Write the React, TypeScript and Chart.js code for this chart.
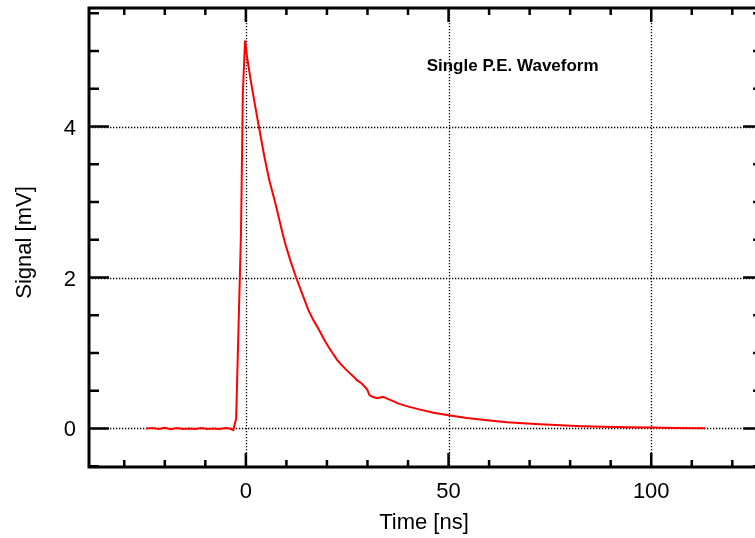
import React, { useEffect, useRef } from "react";
import { Chart, registerables } from "chart.js";

Chart.register(...registerables);

const times: number[] = [
  -24.6, -23, -21.5, -20, -18.5, -17, -15.5, -14, -12.5, -11, -9.5, -8, -6.5, -5, -4, -3.1,
  -2.4, -1.2, -0.75, -0.2, 0.25, 1.2, 2.2, 3.2, 4.5, 5.8, 7.2, 8.9, 9.7, 11, 12.4, 14, 15.4,
  16.6, 17.9, 19.2, 20.4, 21.5, 22.5, 23.3, 24.9, 25.7, 26.7, 27.4, 28.5, 29.4, 29.9, 30.5,
  31.3, 32.3, 33.1, 33.8, 34.7, 35.6, 37.7, 40.1, 43, 46.3, 50, 54.5, 59.5, 64.4, 69.3, 72.6,
  77.6, 83, 88.2, 94, 99.8, 106, 113.3,
];
const signal: number[] = [
  0.0, 0.005, -0.005, 0.01, -0.01, 0.005, -0.005, 0.0, -0.008, 0.005, -0.005, 0.0, -0.005, 0.005, 0.0, -0.02,
  0.13, 2.6, 4.44, 5.14, 4.94, 4.61, 4.3, 4.0, 3.62, 3.28, 3.0, 2.62, 2.45, 2.22, 2.0, 1.77, 1.57,
  1.44, 1.32, 1.19, 1.08, 0.99, 0.91, 0.86, 0.77, 0.73, 0.68, 0.64, 0.6, 0.55, 0.52, 0.44,
  0.42, 0.4, 0.41, 0.42, 0.4, 0.38, 0.33, 0.29, 0.25, 0.21, 0.176, 0.14, 0.11, 0.083, 0.066, 0.055,
  0.044, 0.03, 0.022, 0.016, 0.012, 0.008, 0.004,
];

const xMajorTicks: number[] = [0, 50, 100];
const yMajorTicks: number[] = [0, 2, 4];
const xMinorStep = 10;
const yMinorStep = 0.5;
const xRange: [number, number] = [-38.7, 125.6];
const xFrameRight = 127.6; // right frame of the original plot lies just outside the picture
const yRange: [number, number] = [-0.51, 5.57];
const titleText = "Single P.E. Waveform";
const titlePos = { x: 44.6, y: 4.74 };
const xTitle = "Time [ns]";
const yTitle = "Signal [mV]";

const FONT = "'Liberation Sans', Arial, Helvetica, sans-serif";

const framePlugin = {
  id: "frame",
  beforeDatasetsDraw(chart: any) {
    const { ctx, chartArea: a, scales } = chart;
    const xs = scales.x, ys = scales.y;
    ctx.save();
    ctx.strokeStyle = "#000";
    ctx.lineWidth = 1.3;
    ctx.setLineDash([1.3, 1.7]);
    for (const v of xMajorTicks) {
      const px = Math.round(xs.getPixelForValue(v)) + 0.5;
      ctx.beginPath();
      ctx.moveTo(px, a.top);
      ctx.lineTo(px, a.bottom);
      ctx.stroke();
    }
    for (const v of yMajorTicks) {
      const py = Math.round(ys.getPixelForValue(v)) + 0.5;
      ctx.beginPath();
      ctx.moveTo(a.left, py);
      ctx.lineTo(a.right, py);
      ctx.stroke();
    }
    ctx.restore();
  },
  afterDraw(chart: any) {
    const { ctx, chartArea: a, scales } = chart;
    const xs = scales.x, ys = scales.y;
    const rightEdge = xs.getPixelForValue(xFrameRight);
    ctx.save();
    ctx.setLineDash([]);
    ctx.strokeStyle = "#000";
    ctx.lineWidth = 2.5;
    const xStart = Math.ceil(xRange[0] / xMinorStep) * xMinorStep;
    for (let v = xStart; v <= xFrameRight + 1e-9; v += xMinorStep) {
      const major = xMajorTicks.includes(Math.round(v));
      const len = major ? 14 : 7;
      const px = xs.getPixelForValue(v);
      ctx.beginPath();
      ctx.moveTo(px, a.bottom);
      ctx.lineTo(px, a.bottom - len);
      ctx.moveTo(px, a.top);
      ctx.lineTo(px, a.top + len);
      ctx.stroke();
    }
    const yStart = Math.ceil(yRange[0] / yMinorStep) * yMinorStep;
    for (let v = yStart; v <= yRange[1] + 1e-9; v += yMinorStep) {
      const major = yMajorTicks.some((t) => Math.abs(t - v) < 1e-6);
      const len = major ? 20 : 10;
      const py = ys.getPixelForValue(v);
      ctx.beginPath();
      ctx.moveTo(a.left, py);
      ctx.lineTo(a.left + len, py);
      ctx.moveTo(rightEdge, py);
      ctx.lineTo(rightEdge - len, py);
      ctx.stroke();
    }
    // frame
    ctx.lineWidth = 3;
    ctx.strokeRect(a.left, a.top, rightEdge - a.left, a.bottom - a.top);

    // tick labels
    ctx.fillStyle = "#000";
    ctx.font = `22px ${FONT}`;
    ctx.textAlign = "center";
    ctx.textBaseline = "alphabetic";
    for (const v of xMajorTicks) {
      ctx.fillText(String(v), xs.getPixelForValue(v), a.bottom + 31);
    }
    ctx.textAlign = "right";
    for (const v of yMajorTicks) {
      ctx.fillText(String(v), a.left - 13, ys.getPixelForValue(v) + 8);
    }
    // axis titles
    ctx.textAlign = "center";
    ctx.fillText(xTitle, 424, 529);
    ctx.save();
    ctx.translate(31, (a.top + a.bottom) / 2 + 5);
    ctx.rotate(-Math.PI / 2);
    ctx.fillText(yTitle, 0, 0);
    ctx.restore();
    // title
    ctx.font = `bold 17px ${FONT}`;
    ctx.textAlign = "left";
    ctx.fillText(titleText, xs.getPixelForValue(titlePos.x), ys.getPixelForValue(titlePos.y));
    ctx.restore();
  },
};

export default function App() {
  const ref = useRef<HTMLCanvasElement | null>(null);
  useEffect(() => {
    if (!ref.current) return;
    const chart = new Chart(ref.current, {
      type: "line",
      data: {
        datasets: [
          {
            data: times.map((t, i) => ({ x: t, y: signal[i] })),
            borderColor: "#ff0000",
            borderWidth: 2,
            pointRadius: 0,
            tension: 0,
            fill: false,
          },
        ],
      },
      options: {
        animation: false,
        responsive: false,
        devicePixelRatio: 1,
        layout: { padding: { left: 89, top: 8, right: 0, bottom: 71 } },
        plugins: { legend: { display: false }, tooltip: { enabled: false }, title: { display: false } },
        scales: {
          x: { type: "linear", min: xRange[0], max: xRange[1], display: false },
          y: { type: "linear", min: yRange[0], max: yRange[1], display: false },
        },
      },
      plugins: [framePlugin],
    });
    return () => chart.destroy();
  }, []);
  return (
    <div style={{ position: "fixed", left: 0, top: 0, width: 755, height: 538, background: "#fff" }}>
      <canvas ref={ref} width={755} height={538} />
    </div>
  );
}
